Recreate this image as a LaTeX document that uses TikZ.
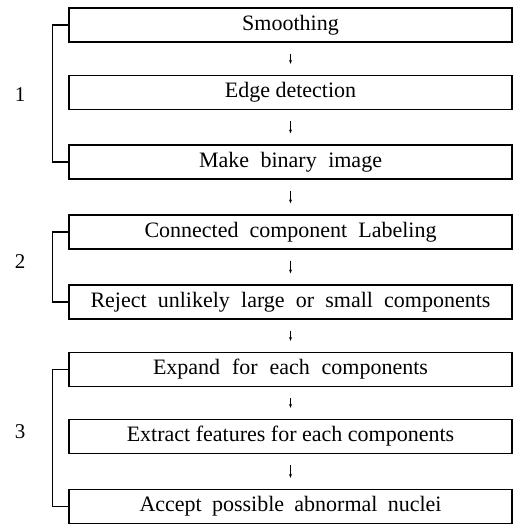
\documentclass[tikz,border=0pt]{standalone}
\usepackage{fontspec}
\setmainfont{Liberation Serif}
\usetikzlibrary{arrows.meta}
\newcommand{\spread}[2]{\makebox[#1][s]{#2}}
\begin{document}
\begin{tikzpicture}[x=1pt,y=-1pt,
  stage/.style={draw, line width=1.2pt, minimum width=443pt, minimum height=34pt, inner sep=0pt,
    font=\fontsize{22}{26}\selectfont},
  flow/.style={-{Stealth[length=4pt,width=3pt]}, line width=0.8pt, shorten <=11pt, shorten >=11pt},
  brace/.style={line width=1.2pt},
  grp/.style={font=\fontsize{21}{25}\selectfont}]
\useasboundingbox (0,0) rectangle (516,527);
\node[stage] (b1) at (290.5,25) {Smoothing};
\node[stage] (b2) at (290.5,92.5) {Edge detection};
\node[stage] (b3) at (290.5,162) {\spread{183pt}{Make binary image}};
\node[stage] (b4) at (290.5,232) {\spread{292pt}{Connected component Labeling}};
\node[stage] (b5) at (290.5,302) {\spread{400pt}{Reject unlikely large or small components}};
\node[stage] (b6) at (290.5,369.5) {\spread{275pt}{Expand for each components}};
\node[stage] (b7) at (290.5,436.5) {Extract features for each components};
\node[stage] (b8) at (290.5,506.5) {\spread{302pt}{Accept possible abnormal nuclei}};
\foreach \a/\b in {b1/b2,b2/b3,b3/b4,b4/b5,b5/b6,b6/b7,b7/b8}
  \draw[flow] (\a) -- (\b);
\draw[brace] (b1.west) -- ++(-16,0) |- (b3.west);
\draw[brace] (b4.west) -- ++(-16,0) |- (b5.west);
\draw[brace] (b6.west) -- ++(-16,0) |- (b8.west);
\node[grp] (g1) at (20,95) {1};
\node[grp] (g2) at (20,262) {2};
\node[grp] (g3) at (20,432) {3};
\end{tikzpicture}
\end{document}
